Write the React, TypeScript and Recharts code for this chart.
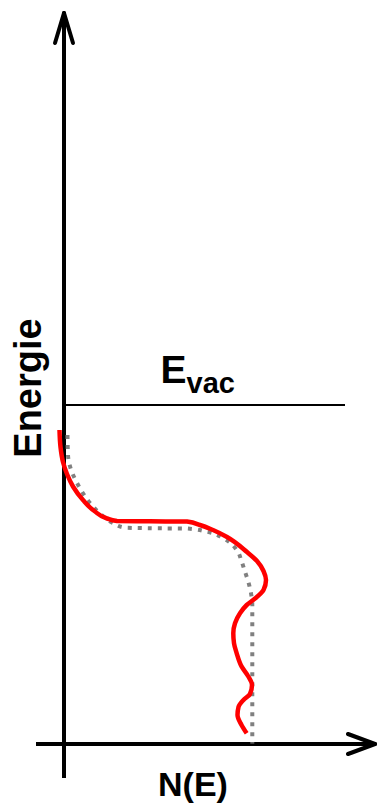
import { LineChart, Line, XAxis, YAxis, ReferenceLine } from 'recharts';

// Energy (vertical) and density of states N(E) (horizontal), arbitrary units
const measuredEnergy = [
  31.4, 29.7, 28.2, 27.0, 25.75, 24.4, 23.25, 22.55, 22.3, 22.27, 22.24, 21.9,
  21.4, 20.7, 19.2, 18.3, 17.3, 16.4, 15.4, 14.55, 13.9, 13.07, 12.07, 11.07,
  10.07, 9.07, 7.73, 6.8, 5.9, 5.0, 4.4, 3.7, 2.9, 1.9, 1.07,
];
const measuredN = [
  -0.45, -0.35, -0.1, 0.3, 0.9, 1.9, 3.1, 4.3, 5.3, 8.6, 12.3, 13.6, 14.9, 16.3,
  18.3, 19.3, 19.95, 20.2, 19.95, 19.1, 18.27, 17.6, 17.1, 16.93, 17.0, 17.27,
  17.77, 18.4, 18.8, 18.6, 17.95, 17.45, 17.35, 17.75, 18.27,
];

const modelEnergy = [
  30.9, 28.9, 27.3, 26.3, 25.4, 24.1, 22.9, 22.1, 21.65, 21.57, 21.55, 21.23,
  20.57, 19.4, 18.23, 17.23, 16.23, 15.23, 13.9, 0.05,
];
const modelN = [
  0.35, 0.4, 0.75, 1.2, 1.7, 2.6, 3.77, 4.9, 6.0, 9.1, 12.3, 14.27, 15.93,
  17.27, 17.77, 18.1, 18.43, 18.67, 18.83, 18.83,
];

const vacuumLevel = 33.9;

const measured = measuredEnergy.map((e, i) => ({ e, n: measuredN[i] }));
const model = modelEnergy.map((e, i) => ({ e, n: modelN[i] }));

const font = "'Liberation Sans', Arial, sans-serif";

const App = () => {
  return (
    <div style={{ position: 'absolute', left: 0, top: 0, width: 377, height: 806, background: '#fff' }}>
      <LineChart
        width={377}
        height={806}
        layout="vertical"
        margin={{ top: 0, right: 0, bottom: 0, left: 0 }}
      >
        <XAxis type="number" dataKey="n" domain={[-6.4, 31.3]} allowDataOverflow hide />
        <YAxis type="number" dataKey="e" domain={[-6.2, 74.4]} allowDataOverflow reversed hide />

        {/* axes with arrow heads */}
        <ReferenceLine segment={[{ x: 0, y: -3.4 }, { x: 0, y: 73.1 }]} stroke="#000" strokeWidth={4} />
        <ReferenceLine segment={[{ x: -0.9, y: 70.1 }, { x: 0, y: 73.1 }]} stroke="#000" strokeWidth={4} strokeLinecap="round" />
        <ReferenceLine segment={[{ x: 0.9, y: 70.1 }, { x: 0, y: 73.1 }]} stroke="#000" strokeWidth={4} strokeLinecap="round" />
        <ReferenceLine segment={[{ x: -2.8, y: 0 }, { x: 31.1, y: 0 }]} stroke="#000" strokeWidth={4} />
        <ReferenceLine segment={[{ x: 28.4, y: 1.0 }, { x: 31.1, y: 0 }]} stroke="#000" strokeWidth={4} strokeLinecap="round" />
        <ReferenceLine segment={[{ x: 28.4, y: -1.0 }, { x: 31.1, y: 0 }]} stroke="#000" strokeWidth={4} strokeLinecap="round" />

        {/* vacuum level */}
        <ReferenceLine segment={[{ x: 0.2, y: vacuumLevel }, { x: 28.1, y: vacuumLevel }]} stroke="#000" strokeWidth={2} />

        <Line
          data={model}
          dataKey="n"
          type="monotone"
          stroke="#808080"
          strokeWidth={4}
          strokeDasharray="4 6"
          dot={false}
          activeDot={false}
          isAnimationActive={false}
        />
        <Line
          data={measured}
          dataKey="n"
          type="monotone"
          stroke="#ff0000"
          strokeWidth={4.5}
          dot={false}
          activeDot={false}
          isAnimationActive={false}
        />

        <text
          x={41}
          y={388}
          transform="rotate(-90 41 388)"
          textAnchor="middle"
          fontFamily={font}
          fontWeight="bold"
          fontSize={38}
          fill="#000"
        >
          Energie
        </text>
        <text x={193} y={796} textAnchor="middle" fontFamily={font} fontWeight="bold" fontSize={34} fill="#000">
          N(E)
        </text>
        <text x={160.5} y={383} fontFamily={font} fontWeight="bold" fill="#000">
          <tspan fontSize={39}>E</tspan>
          <tspan fontSize={29} dy={10}>vac</tspan>
        </text>
      </LineChart>
    </div>
  );
};

export default App;
